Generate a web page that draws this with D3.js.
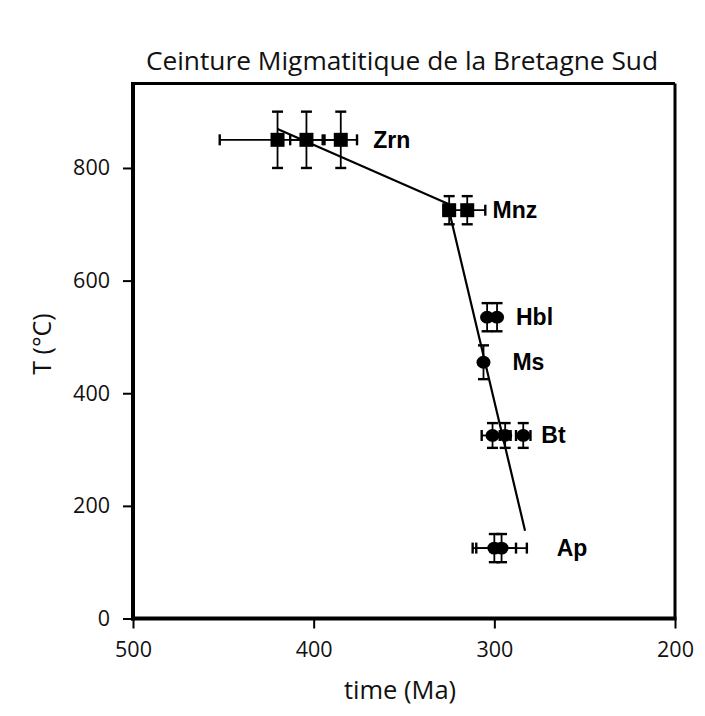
<!DOCTYPE html>
<html>
<head>
<meta charset="utf-8">
<script src="https://cdn.jsdelivr.net/npm/d3@7"></script>
<style>
  body { margin: 0; background: #fff; }
  svg { display: block; }
  .tick text { font-family: "Open Sans", sans-serif; font-size: 21.5px; fill: #111; }
  .lbl { font-family: "Liberation Sans", Arial, sans-serif; font-weight: bold; font-size: 23px; fill: #000; }
</style>
</head>
<body>
<svg width="705" height="716"></svg>
<script>
// mineral labels
const minerals = ['Zrn', 'Mnz', 'Hbl', 'Ms', 'Bt', 'Ap'];
const labelAge = [367, 301, 288, 290, 274, 265.5];
const labelTemp = [850, 725, 535, 455, 325, 125];

// individual data points (age in Ma, T in °C)
const pointMineral = ['Zrn', 'Zrn', 'Zrn', 'Mnz', 'Mnz', 'Hbl', 'Hbl', 'Ms', 'Bt', 'Bt', 'Bt', 'Ap', 'Ap'];
const pointAge = [420, 404, 385, 325, 315, 304, 298.5, 306, 301, 294, 284, 300, 296];
const ageErr = [32, 9, 9, 3, 10, 0, 0, 0, 6, 3, 4, 12, 14];
const pointTemp = [850, 850, 850, 725, 725, 535, 535, 455, 325, 325, 325, 125, 125];
const tempErr = [50, 50, 50, 25, 25, 25, 25, 30, 22, 22, 22, 25, 25];
const squareMinerals = ['Zrn', 'Mnz'];

// cooling path
const pathAge = [420, 326, 283];
const pathTemp = [869, 737, 156];

// ticks
const xTicks = [500, 400, 300, 200];
const yTicks = [0, 200, 400, 600, 800];

const title = 'Ceinture Migmatitique de la Bretagne Sud';
const xTitle = 'time (Ma)';
const yTitle = 'T (°C)';

const points = pointAge.map((a, i) => ({
  mineral: pointMineral[i], age: a, ae: ageErr[i], temp: pointTemp[i], te: tempErr[i]
}));

const svg = d3.select('svg');
const plotL = 133, plotR = 675, plotT = 83.5, plotB = 618.5;

const x = d3.scaleLinear().domain([500, 200]).range([plotL, plotR]);
const y = d3.scaleLinear().domain([0, 950]).range([plotB, plotT]);

svg.append('rect').attr('width', 705).attr('height', 716).attr('fill', '#fff');

// frame top/right
svg.append('line')
  .attr('x1', plotL).attr('x2', plotR).attr('y1', plotT).attr('y2', plotT)
  .attr('stroke', '#000').attr('stroke-width', 3);
svg.append('line')
  .attr('x1', plotR).attr('x2', plotR).attr('y1', plotT).attr('y2', plotB)
  .attr('stroke', '#000').attr('stroke-width', 3);

const xAxis = svg.append('g')
  .attr('transform', `translate(0, ${plotB})`)
  .call(d3.axisBottom(x).tickValues(xTicks).tickSize(10).tickSizeOuter(0).tickPadding(13));
const yAxis = svg.append('g')
  .attr('transform', `translate(${plotL}, 0)`)
  .call(d3.axisLeft(y).tickValues(yTicks).tickSize(10).tickSizeOuter(0).tickPadding(13));

[xAxis, yAxis].forEach(g => {
  g.select('.domain').attr('stroke', '#000').attr('stroke-width', 4);
  g.selectAll('.tick line').attr('stroke', '#000').attr('stroke-width', 2);
});
// domain should run the full frame
xAxis.select('.domain').attr('d', `M${plotL - 2},0H${plotR + 1.5}`);
yAxis.select('.domain').attr('d', `M0,${plotT - 1.5}V${plotB + 2}`);

// cooling path
svg.append('path')
  .datum(pathAge.map((a, i) => [a, pathTemp[i]]))
  .attr('fill', 'none')
  .attr('stroke', '#000')
  .attr('stroke-width', 2.2)
  .attr('d', d3.line().x(d => x(d[0])).y(d => y(d[1])));

// error bars
const cap = 5.5;
const bars = svg.append('g').attr('stroke', '#000').attr('stroke-width', 1.8);
points.forEach(p => {
  const cx = x(p.age), cy = y(p.temp);
  if (p.te > 0) {
    bars.append('line').attr('x1', cx).attr('x2', cx).attr('y1', y(p.temp + p.te)).attr('y2', y(p.temp - p.te));
    [p.temp + p.te, p.temp - p.te].forEach(t => {
      bars.append('line').attr('x1', cx - cap).attr('x2', cx + cap).attr('y1', y(t)).attr('y2', y(t)).attr('stroke-width', 2.4);
    });
  }
  if (p.ae > 0) {
    bars.append('line').attr('y1', cy).attr('y2', cy).attr('x1', x(p.age + p.ae)).attr('x2', x(p.age - p.ae));
    [p.age + p.ae, p.age - p.ae].forEach(a => {
      bars.append('line').attr('y1', cy - cap).attr('y2', cy + cap).attr('x1', x(a)).attr('x2', x(a)).attr('stroke-width', 2.4);
    });
  }
});

// markers
const marks = svg.append('g').attr('fill', '#000');
points.forEach(p => {
  if (squareMinerals.includes(p.mineral)) {
    marks.append('rect')
      .attr('x', x(p.age) - 7).attr('y', y(p.temp) - 7)
      .attr('width', 14).attr('height', 14);
  } else {
    marks.append('ellipse')
      .attr('cx', x(p.age)).attr('cy', y(p.temp))
      .attr('rx', 7).attr('ry', 6.4);
  }
});

// mineral labels
svg.append('g').selectAll('text')
  .data(minerals)
  .join('text')
  .attr('class', 'lbl')
  .attr('x', (d, i) => x(labelAge[i]))
  .attr('y', (d, i) => y(labelTemp[i]) + 8)
  .text(d => d);

// titles
svg.append('text')
  .attr('x', 402).attr('y', 70)
  .attr('text-anchor', 'middle')
  .attr('font-family', '"Open Sans", sans-serif')
  .attr('font-size', 26.3)
  .attr('fill', '#111')
  .text(title);

svg.append('text')
  .attr('x', 400).attr('y', 699)
  .attr('text-anchor', 'middle')
  .attr('font-family', '"Open Sans", sans-serif')
  .attr('font-size', 25.5)
  .attr('fill', '#111')
  .text(xTitle);

svg.append('text')
  .attr('transform', 'translate(51, 344) rotate(-90)')
  .attr('text-anchor', 'middle')
  .attr('font-family', '"Open Sans", sans-serif')
  .attr('font-size', 25)
  .attr('fill', '#111')
  .text(yTitle);
</script>
</body>
</html>
